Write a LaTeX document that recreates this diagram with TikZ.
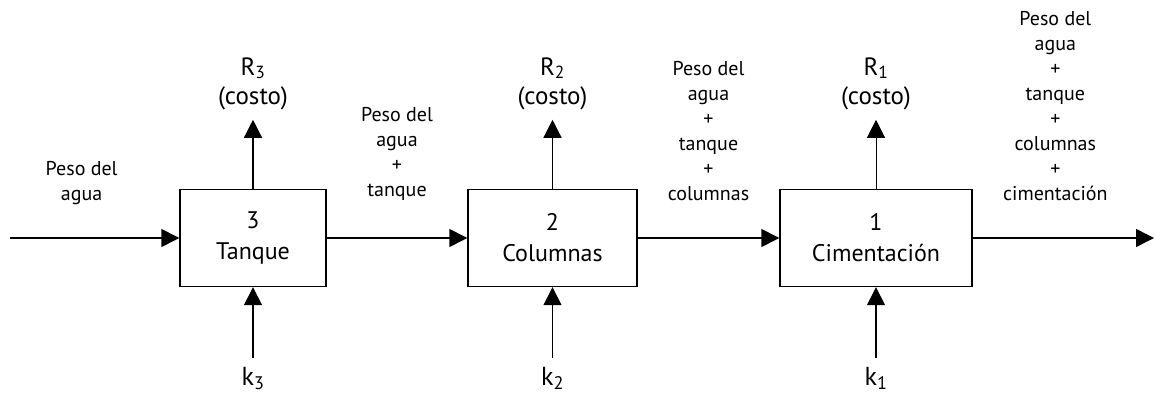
\documentclass[tikz,border=0pt]{standalone}
\usepackage{fontspec}
\setmainfont{PT Sans}
\usetikzlibrary{arrows.meta,positioning}

\begin{document}
\begin{tikzpicture}[
        x=1pt, y=1pt,
        blk/.style={draw, line width=1.4pt, minimum height=97pt, inner sep=0pt,
                    align=center, font=\fontsize{24}{31}\selectfont},
        e/.style={-{Triangle[length=18pt, width=18pt]}, line width=1.4pt},
        flow/.style={font=\fontsize{20}{25}\selectfont, align=center, inner sep=0pt},
        cost/.style={font=\fontsize{25}{29}\selectfont, align=center, inner sep=0pt},
        kin/.style={font=\fontsize{26}{30}\selectfont, inner sep=0pt}
      ]
        \useasboundingbox (0,0) rectangle (1156,399);
        % stages
        \node[blk, minimum width=146pt] (tanque)   at (253,161)   {3\\Tanque};
        \node[blk, minimum width=169pt] (columnas) at (552.5,161) {2\\Columnas};
        \node[blk, minimum width=192pt] (ciment)   at (876,161)   {1\\Cimentación};
        \coordinate (in)  at (10,161);
        \coordinate (out) at (1154,161);
        % returns and decisions
        \coordinate[above=69pt of tanque]   (r3);
        \coordinate[above=69pt of columnas] (r2);
        \coordinate[above=69pt of ciment]   (r1);
        \coordinate[below=71pt of tanque]   (q3);
        \coordinate[below=71pt of columnas] (q2);
        \coordinate[below=71pt of ciment]   (q1);
        \draw[e] (tanque)   -- (r3);
        \draw[e] (columnas) -- (r2);
        \draw[e, line width=0.8pt] (ciment) -- (r1);
        \draw[e] (q3) -- (tanque);
        \draw[e] (q2) -- (columnas);
        \draw[e] (q1) -- (ciment);
        \node[cost, above=10pt of r3] (lr3) {R\textsubscript{3}\\(costo)};
        \node[cost, above=10pt of r2] (lr2) {R\textsubscript{2}\\(costo)};
        \node[cost, above=10pt of r1] (lr1) {R\textsubscript{1}\\(costo)};
        \node[kin, below=9pt of q3] (lk3) {k\textsubscript{3}};
        \node[kin, below=9pt of q2] (lk2) {k\textsubscript{2}};
        \node[kin, below=9pt of q1] (lk1) {k\textsubscript{1}};
        % states
        \draw[e] (in) -- node[flow, above=33pt, xshift=-13pt]{Peso del\\agua} (tanque);
        \draw[e] (tanque) -- node[flow, above=37pt]{Peso del\\agua\\+\\tanque} (columnas);
        \draw[e] (columnas) -- node[flow, above=37pt]{Peso del\\agua\\+\\tanque\\+\\columnas} (ciment);
        \draw[e] (ciment) -- node[flow, above=37pt, xshift=-8pt]{Peso del\\agua\\+\\tanque\\+\\columnas\\+\\cimentación} (out);
      \end{tikzpicture}
\end{document}
